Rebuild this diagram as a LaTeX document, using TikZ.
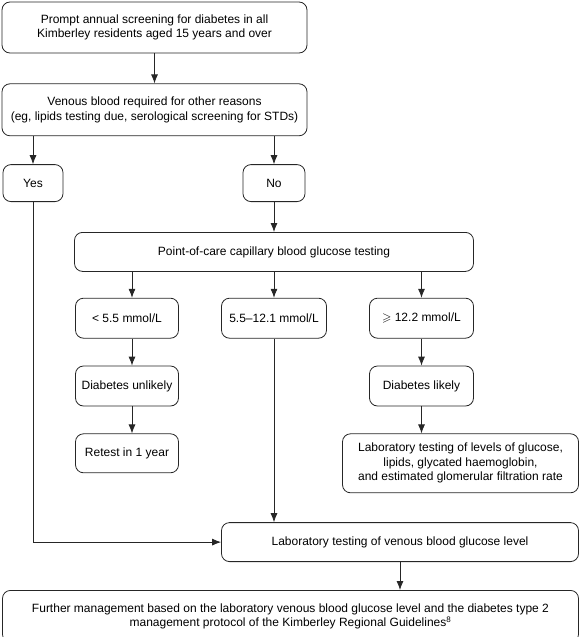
\documentclass[tikz,border=0pt]{standalone}
\usepackage{amssymb}
\usepackage{fontspec}
\setmainfont{Liberation Sans}
\usepackage{tikz}
\tikzset{
    stage/.style={rectangle,rounded corners=8pt,draw=black!85,line width=0.8pt,align=center,inner sep=2pt},
    result/.style={stage,minimum width=103pt,minimum height=40pt},
    flow/.style={-{Latex[length=9pt,width=7pt]},draw=black!85,line width=0.8pt},
}
\usetikzlibrary{arrows.meta}
\usetikzlibrary{positioning}

\begin{document}
\begin{tikzpicture}[font=\fontsize{12}{14.5}\selectfont]
\useasboundingbox (0,0) rectangle (580pt,-637pt);
\node[stage,minimum width=305pt,minimum height=51pt](prompt) at (154.5pt,-27.5pt) {Prompt annual screening for diabetes in all\\Kimberley residents aged 15 years and over};
\node[stage,minimum width=305pt,minimum height=52pt](venous) [below=30pt of prompt] {Venous blood required for other reasons\\(eg, lipids testing due, serological screening for STDs)};
\node[stage,minimum width=60pt,minimum height=37pt](yes) [below right=28pt and 1pt of venous.south west] {Yes};
\node[stage,minimum width=62pt,minimum height=37pt](no) [below left=28pt and 2pt of venous.south east] {No};
\node[stage,minimum width=399pt,minimum height=39pt](poc) [below=30pt of no] {Point-of-care capillary blood glucose testing};
\node[result](low) [below right=26pt and 1pt of poc.south west] {< 5.5 mmol/L};
\node[result,minimum width=105pt](mid) [below=26pt of poc] {5.5--12.1 mmol/L};
\node[result,minimum width=104pt](high) [below left=26pt and 0pt of poc.south east] {$\geqslant$ 12.2 mmol/L};
\node[result](unlikely) [below=27pt of low] {Diabetes unlikely};
\node[result,minimum height=39pt](retest) [below=27pt of unlikely] {Retest in 1 year};
\node[result,minimum width=104pt](likely) [below=27pt of high] {Diabetes likely};
\node[stage,minimum width=236pt,minimum height=59pt](labfull) [below=27pt of likely,xshift=39pt] {Laboratory testing of levels of glucose,\\lipids, glycated haemoglobin,\\and estimated glomerular filtration rate};
\node[stage,minimum width=357pt,minimum height=39pt](venlab) [below left=29pt and 0pt of labfull.south east] {Laboratory testing of venous blood glucose level};
\node[stage,minimum width=576pt,minimum height=52pt](further) [below left=28pt and 0pt of venlab.south east] {Further management based on the laboratory venous blood glucose level and the diabetes type 2\\management protocol of the Kimberley Regional Guidelines\textsuperscript{8}};
% screening and the venous blood question
\draw[flow] (prompt) -- (venous);
\draw[flow] (yes.north |- venous.south) -- (yes);
\draw[flow] (no.north |- venous.south) -- (no);
\draw[flow] (no) -- (poc);
% capillary result bands
\draw[flow] ([xshift=5pt]low.north |- poc.south) -- ([xshift=5pt]low.north);
\draw[flow] (mid.north |- poc.south) -- (mid);
\draw[flow] (high.north |- poc.south) -- (high);
\draw[flow] ([xshift=5pt]low.south) -- ([xshift=5pt]unlikely.north);
\draw[flow] ([xshift=5pt]unlikely.south) -- ([xshift=5pt]retest.north);
\draw[flow] (high) -- (likely);
\draw[flow] (likely) -- (likely |- labfull.north);
% venous testing and follow-up
\draw[flow] (yes) |- (venlab);
\draw[flow] (mid) -- (mid |- venlab.north);
\draw[flow] (venlab) -- (venlab |- further.north);
\end{tikzpicture}
\end{document}
